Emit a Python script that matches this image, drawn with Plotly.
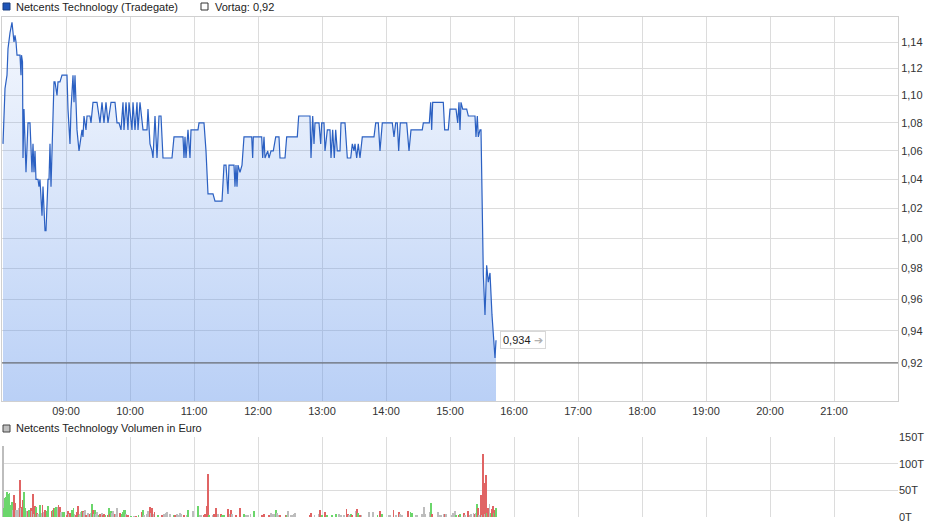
import math
import pandas as pd
import plotly.graph_objects as go

trade_date = "2021-02-19"
stock_name = "Netcents Technology"
exchange = "Tradegate"
prev_close = 0.92
last_price = 0.934

price_times = [
    "08:00:56", "08:02:49", "08:04:41", "08:05:38", "08:07:30", "08:09:22", "08:11:15", "08:12:11",
    "08:13:08", "08:14:04", "08:16:52", "08:17:49", "08:18:17", "08:19:13", "08:19:41", "08:20:37",
    "08:22:30", "08:24:22", "08:26:15", "08:27:11", "08:28:07", "08:29:04", "08:30:00", "08:30:56",
    "08:31:52", "08:33:45", "08:34:41", "08:35:37", "08:37:30", "08:38:26", "08:40:19", "08:41:15",
    "08:43:07", "08:44:04", "08:45:00", "08:45:56", "08:46:52", "08:48:45", "08:49:41", "08:51:34",
    "08:52:30", "08:54:22", "08:56:15", "09:00:56", "09:01:52", "09:03:45", "09:04:41", "09:06:34",
    "09:07:30", "09:08:26", "09:10:19", "09:12:11", "09:14:04", "09:15:00", "09:15:56", "09:16:52",
    "09:18:45", "09:19:41", "09:22:30", "09:23:26", "09:25:19", "09:29:04", "09:31:52", "09:33:45",
    "09:35:37", "09:37:30", "09:39:22", "09:42:11", "09:45:56", "09:47:49", "09:49:41", "09:51:34",
    "09:53:26", "09:54:22", "09:56:15", "09:58:07", "09:59:04", "10:01:52", "10:02:49", "10:04:41",
    "10:06:34", "10:07:30", "10:09:22", "10:12:11", "10:15:56", "10:16:52", "10:18:45", "10:20:37",
    "10:21:34", "10:23:26", "10:25:19", "10:27:11", "10:29:04", "10:30:56", "10:39:22", "10:41:15",
    "10:49:41", "10:50:37", "10:51:34", "10:52:30", "10:54:22", "10:56:15", "10:57:11", "11:03:45",
    "11:04:41", "11:09:22", "11:11:15", "11:13:07", "11:17:49", "11:19:41", "11:26:15", "11:28:07",
    "11:30:00", "11:31:52", "11:32:49", "11:37:30", "11:38:26", "11:39:22", "11:40:19", "11:41:15",
    "11:43:07", "11:45:00", "11:46:52", "11:54:06", "11:55:00", "11:55:36", "12:03:28", "12:04:24",
    "12:05:38", "12:06:34", "12:09:05", "12:10:19", "12:12:11", "12:14:21", "12:16:36", "12:19:41",
    "12:20:37", "12:25:19", "12:26:54", "12:36:50", "12:38:09", "12:48:45", "12:49:41", "12:51:17",
    "12:52:30", "12:53:26", "12:57:11", "12:58:47", "12:59:43", "13:01:52", "13:02:49", "13:05:00",
    "13:07:30", "13:08:26", "13:10:00", "13:11:32", "13:12:50", "13:14:20", "13:16:52", "13:17:49",
    "13:21:34", "13:23:44", "13:26:55", "13:28:25", "13:30:00", "13:30:56", "13:32:32", "13:34:00",
    "13:35:37", "13:37:47", "13:48:45", "13:50:20", "13:52:47", "13:54:22", "13:56:32", "14:05:54",
    "14:07:30", "14:09:05", "14:10:35", "14:11:54", "14:13:24", "14:19:24", "14:21:34", "14:23:26",
    "14:34:00", "14:35:00", "14:40:36", "14:41:54", "14:42:50", "14:43:46", "14:53:43", "14:55:00",
    "14:58:24", "15:00:00", "15:05:38", "15:07:13", "15:08:26", "15:09:22", "15:10:19", "15:11:54",
    "15:15:39", "15:17:11", "15:23:26", "15:24:22", "15:25:37", "15:26:32", "15:28:07", "15:29:04",
    "15:31:14", "15:32:48", "15:34:22", "15:35:53", "15:37:30", "15:39:22", "15:42:11", "15:43:08",
]
price_values = [
    1.065, 1.105, 1.115, 1.135, 1.147, 1.155, 1.14, 1.145,
    1.14, 1.13, 1.13, 1.115, 1.13, 1.125, 1.055, 1.09,
    1.045, 1.08, 1.08, 1.055, 1.045, 1.065, 1.045, 1.06,
    1.04, 1.04, 1.035, 1.04, 1.015, 1.035, 1.005, 1.005,
    1.04, 1.04, 1.065, 1.035, 1.065, 1.11, 1.11, 1.10,
    1.11, 1.11, 1.115, 1.115, 1.09, 1.065, 1.09, 1.115,
    1.095, 1.115, 1.075, 1.06, 1.07, 1.075, 1.07, 1.085,
    1.075, 1.085, 1.085, 1.08, 1.095, 1.095, 1.08, 1.095,
    1.08, 1.095, 1.08, 1.095, 1.095, 1.08, 1.08, 1.075,
    1.095, 1.075, 1.095, 1.075, 1.095, 1.075, 1.095, 1.075,
    1.095, 1.075, 1.095, 1.075, 1.075, 1.09, 1.065, 1.06,
    1.055, 1.085, 1.055, 1.085, 1.085, 1.055, 1.055, 1.07,
    1.07, 1.055, 1.07, 1.055, 1.075, 1.055, 1.075, 1.075,
    1.08, 1.08, 1.06, 1.03, 1.03, 1.025, 1.025, 1.05,
    1.05, 1.03, 1.05, 1.05, 1.035, 1.05, 1.035, 1.05,
    1.045, 1.05, 1.07, 1.07, 1.055, 1.07, 1.07, 1.055,
    1.07, 1.055, 1.06, 1.055, 1.06, 1.06, 1.07, 1.07,
    1.055, 1.055, 1.07, 1.07, 1.085, 1.085, 1.055, 1.085,
    1.065, 1.08, 1.08, 1.065, 1.08, 1.08, 1.06, 1.075,
    1.075, 1.055, 1.075, 1.055, 1.075, 1.06, 1.06, 1.08,
    1.08, 1.055, 1.055, 1.065, 1.06, 1.065, 1.055, 1.065,
    1.055, 1.07, 1.07, 1.08, 1.08, 1.06, 1.08, 1.08,
    1.07, 1.08, 1.08, 1.06, 1.08, 1.08, 1.06, 1.075,
    1.075, 1.08, 1.08, 1.095, 1.075, 1.095, 1.095, 1.075,
    1.075, 1.09, 1.09, 1.08, 1.095, 1.075, 1.095, 1.09,
    1.09, 1.085, 1.085, 1.07, 1.085, 1.07, 1.075, 1.075,
    0.976, 0.95, 0.982, 0.971, 0.977, 0.95, 0.923, 0.934,
]

vol_times = [
    "08:01", "08:02", "08:03", "08:04", "08:05", "08:06", "08:07", "08:08", "08:09", "08:10",
    "08:11", "08:12", "08:13", "08:14", "08:15", "08:16", "08:17", "08:18", "08:19", "08:20",
    "08:21", "08:22", "08:23", "08:24", "08:25", "08:27", "08:28", "08:29", "08:30", "08:31",
    "08:32", "08:33", "08:34", "08:36", "08:37", "08:38", "08:39", "08:40", "08:42", "08:43",
    "08:47", "08:48", "08:49", "08:50", "08:51", "08:52", "08:53", "08:54", "08:55", "08:56",
    "08:57", "08:58",
    "09:01", "09:02", "09:03", "09:04", "09:06", "09:07", "09:08", "09:09", "09:10", "09:11",
    "09:12", "09:13", "09:14", "09:15", "09:16", "09:17", "09:18", "09:19", "09:21", "09:22",
    "09:23", "09:24", "09:25", "09:26", "09:27", "09:28", "09:29", "09:31", "09:32", "09:34",
    "09:35", "09:36", "09:37", "09:39", "09:40", "09:41", "09:42", "09:43", "09:44", "09:46",
    "09:47", "09:48", "09:51", "09:52", "09:53", "09:54", "09:55", "09:56", "09:57", "09:58",
    "10:01", "10:04", "10:06", "10:08", "10:11", "10:12", "10:13", "10:16", "10:17", "10:18",
    "10:19", "10:20", "10:21", "10:22", "10:23", "10:26", "10:30", "10:32", "10:34", "10:35",
    "10:37", "10:38", "10:41", "10:42", "10:44", "10:45", "10:47", "10:48", "10:51", "10:53",
    "10:54", "10:59",
    "11:04", "11:06", "11:07", "11:09", "11:10", "11:12", "11:13", "11:14", "11:18", "11:19",
    "11:21", "11:22", "11:23", "11:25", "11:26", "11:28", "11:32", "11:34", "11:35", "11:36",
    "11:39", "11:43", "11:47", "11:49", "11:51", "11:53", "11:56",
    "12:04", "12:05", "12:06", "12:10", "12:12", "12:13", "12:15", "12:17", "12:18", "12:20",
    "12:21", "12:26", "12:27", "12:28", "12:31", "12:32", "12:34", "12:35", "12:49", "12:50",
    "12:53", "12:57", "12:58",
    "13:00", "13:03", "13:05", "13:09", "13:13", "13:16", "13:18", "13:21", "13:23", "13:24",
    "13:25", "13:27", "13:28", "13:32", "13:33", "13:34", "13:36", "13:37", "13:44", "13:48",
    "13:52", "13:54", "13:56",
    "14:03", "14:04", "14:07", "14:09", "14:12", "14:13", "14:15", "14:21", "14:23", "14:24",
    "14:28", "14:29", "14:34", "14:36", "14:37", "14:41", "14:42", "14:43", "14:49", "14:51",
    "14:52", "14:54", "14:55", "14:56",
    "15:02", "15:03", "15:05", "15:06", "15:08", "15:09", "15:13", "15:14", "15:17", "15:19",
    "15:20", "15:22", "15:23", "15:24", "15:25", "15:26", "15:27", "15:29", "15:30", "15:31",
    "15:32", "15:33", "15:34", "15:35", "15:36", "15:37", "15:38", "15:39", "15:40", "15:41",
    "15:42", "15:43",
]
# volume in thousand euro
vol_values = [
    134, 16, 35, 38, 46, 43, 45, 22, 28, 13,
    41, 26, 13, 13, 14, 16, 69, 16, 19, 32,
    47, 16, 11, 11, 13, 16, 11, 43, 5, 20,
    19, 8, 6, 22, 8, 22, 9, 14, 11, 20,
    11, 14, 16, 16, 19, 19, 22, 19, 9, 8,
    9, 9,
    3, 11, 5, 8, 13, 17, 5, 3, 10, 20,
    3, 5, 10, 11, 11, 10, 14, 3, 8, 5,
    8, 24, 14, 5, 13, 6, 9, 3, 5, 8,
    3, 5, 3, 3, 16, 5, 11, 8, 11, 5,
    5, 16, 8, 5, 9, 14, 14, 5, 3, 3,
    1, 1, 1, 2, 9, 13, 3, 5, 11, 9,
    19, 8, 17, 5, 9, 3, 2, 5, 8, 9,
    5, 6, 3, 3, 5, 3, 8, 6, 3, 3,
    13, 11,
    20, 3, 3, 3, 5, 20, 81, 3, 3, 5,
    16, 6, 5, 5, 3, 3, 15, 5, 13, 5,
    3, 16, 5, 3, 3, 5, 11,
    3, 3, 5, 3, 8, 5, 5, 13, 8, 3,
    3, 3, 3, 11, 3, 3, 5, 8, 3, 8,
    3, 5, 13,
    3, 9, 3, 3, 6, 6, 3, 3, 15, 5,
    3, 6, 3, 11, 15, 8, 3, 3, 9, 9,
    3, 11, 6,
    3, 3, 13, 3, 9, 5, 3, 11, 9, 8,
    3, 3, 6, 19, 6, 9, 26, 5, 9, 3,
    3, 6, 6, 6,
    3, 8, 11, 3, 3, 6, 8, 3, 11, 3,
    6, 8, 5, 8, 24, 16, 3, 41, 3, 119,
    64, 6, 79, 8, 17, 24, 8, 15, 20, 8,
    14, 16,
]
# u = price up, d = price down, n = unchanged
vol_direction = [
    "n", "u", "u", "u", "u", "u", "u", "u", "u", "n",
    "d", "d", "n", "n", "n", "n", "d", "n", "d", "d",
    "u", "u", "n", "d", "u", "d", "n", "d", "n", "d",
    "u", "d", "n", "u", "n", "d", "n", "d", "u", "u",
    "d", "u", "d", "u", "u", "n", "d", "d", "n", "n",
    "u", "u",
    "d", "d", "n", "d", "u", "u", "n", "d", "d", "d",
    "u", "n", "n", "u", "d", "n", "n", "d", "n", "d",
    "n", "u", "d", "n", "u", "n", "n", "u", "d", "n",
    "d", "d", "u", "d", "u", "d", "u", "n", "n", "d",
    "n", "n", "d", "u", "u", "u", "u", "n", "d", "d",
    "u", "n", "d", "u", "d", "u", "n", "n", "n", "n",
    "d", "n", "d", "n", "d", "u", "d", "n", "n", "n",
    "n", "n", "u", "d", "n", "n", "n", "n", "d", "n",
    "u", "n",
    "u", "n", "n", "d", "d", "d", "d", "u", "n", "d",
    "d", "n", "n", "d", "u", "u", "d", "n", "d", "n",
    "d", "d", "u", "n", "n", "n", "u",
    "d", "d", "d", "d", "n", "n", "n", "u", "n", "n",
    "d", "d", "u", "n", "n", "n", "n", "n", "d", "d",
    "n", "n", "d",
    "u", "d", "u", "u", "u", "n", "n", "n", "d", "d",
    "n", "u", "d", "n", "d", "u", "d", "n", "n", "n",
    "u", "d", "u",
    "n", "n", "d", "n", "d", "n", "n", "d", "u", "u",
    "n", "n", "n", "n", "n", "n", "u", "d", "n", "n",
    "n", "n", "d", "n",
    "n", "n", "n", "u", "d", "u", "d", "n", "d", "n",
    "n", "n", "d", "n", "u", "d", "n", "d", "n", "d",
    "d", "n", "d", "u", "d", "n", "u", "d", "d", "u",
    "d", "u",
]
direction_colors = {"u": "#6bd66b", "d": "#e06464", "n": "#bdbdbd"}

price_ticks = [0.92, 0.94, 0.96, 0.98, 1.00, 1.02, 1.04, 1.06, 1.08, 1.10, 1.12, 1.14]
price_range = [0.8969, 1.1592]
vol_ticks = [0, 50000, 100000, 150000]
vol_tick_labels = ["0T", "50T", "100T", "150T"]
session_start, session_end = "08:00", "22:00"
hour_ticks = ["09:00", "10:00", "11:00", "12:00", "13:00", "14:00", "15:00",
              "16:00", "17:00", "18:00", "19:00", "20:00", "21:00"]


def ts(t):
    return pd.Timestamp(f"{trade_date} {t}")


px_t = [ts(t) for t in price_times]
vx_t = [ts(t) for t in vol_times]
vol_euro = [v * 1000 for v in vol_values]
vol_colors = [direction_colors[d] for d in vol_direction]

FONT = "Liberation Sans, Arial, sans-serif"
GRID = "#dcdcdc"

fig = go.Figure()

fig.add_trace(go.Scatter(
    x=px_t, y=price_values, mode="lines",
    line=dict(color="#2b60c2", width=1.2),
    fill="tozeroy",
    fillgradient=dict(type="vertical",
                      colorscale=[[0, "rgba(100,150,235,0.45)"], [1, "rgba(100,150,235,0.07)"]],
                      start=price_range[0], stop=max(price_values)),
    xaxis="x", yaxis="y", hoverinfo="skip", showlegend=False,
))

fig.add_trace(go.Bar(
    x=vx_t, y=vol_euro, marker=dict(color=vol_colors, line=dict(width=0)),
    width=50000, xaxis="x2", yaxis="y2", showlegend=False, hoverinfo="skip",
))

xr = [ts(session_start), ts(session_end)]
xt = [ts(t) for t in hour_ticks]

fig.update_layout(
    width=940, height=526,
    margin=dict(l=2, r=42, t=17, b=9),
    paper_bgcolor="white", plot_bgcolor="white",
    separators=",.",
    font=dict(family=FONT, size=11, color="#333333"),
    bargap=0,
    xaxis=dict(domain=[0, 1], anchor="y", range=xr, tickvals=xt, tickformat="%H:%M",
               showgrid=True, gridcolor=GRID, gridwidth=1, ticks="", zeroline=False,
               showline=True, linecolor="#d0d0d0", mirror=True,
               tickfont=dict(family=FONT, size=11, color="#333333")),
    yaxis=dict(domain=[0.232, 1], anchor="x", type="log",
               range=[math.log10(price_range[0]), math.log10(price_range[1])],
               side="right", tickvals=price_ticks, tickformat=".2f",
               showgrid=True, gridcolor=GRID, gridwidth=1, ticks="", zeroline=False,
               showline=True, linecolor="#d0d0d0", mirror=True,
               tickfont=dict(family=FONT, size=11, color="#333333")),
    xaxis2=dict(domain=[0, 1], anchor="y2", matches="x", tickvals=xt, showticklabels=False,
                showgrid=True, gridcolor=GRID, gridwidth=1, ticks="", zeroline=False, showline=False),
    yaxis2=dict(domain=[0, 0.16], anchor="x2", range=[0, 150000], side="right",
                tickvals=vol_ticks, ticktext=vol_tick_labels,
                showgrid=True, gridcolor=GRID, gridwidth=1, ticks="", zeroline=False, showline=False,
                tickfont=dict(family=FONT, size=11, color="#333333")),
)

# previous close line
fig.add_shape(type="line", xref="paper", x0=0, x1=1, yref="y", y0=prev_close, y1=prev_close,
              line=dict(color="#5a5a5a", width=1))


def px2x(p):
    return (p - 2) / 896


def px2y(p):
    return (517 - p) / 500


# legend squares
fig.add_shape(type="rect", xref="paper", yref="paper", x0=px2x(3), x1=px2x(10), y0=px2y(10), y1=px2y(3),
              fillcolor="#1f55b8", line=dict(color="#1a3f80", width=1))
fig.add_shape(type="rect", xref="paper", yref="paper", x0=px2x(201), x1=px2x(208), y0=px2y(10), y1=px2y(3),
              fillcolor="white", line=dict(color="#333333", width=1))
fig.add_shape(type="rect", xref="paper", yref="paper", x0=px2x(3), x1=px2x(10), y0=px2y(432), y1=px2y(425),
              fillcolor="#c0c0c0", line=dict(color="#444444", width=1))

fig.add_annotation(xref="paper", yref="paper", x=px2x(14), y=px2y(7), xanchor="left", yanchor="middle",
                   text=f"{stock_name} ({exchange})", showarrow=False,
                   font=dict(family=FONT, size=11, color="#222222"))
fig.add_annotation(xref="paper", yref="paper", x=px2x(213), y=px2y(7), xanchor="left", yanchor="middle",
                   text=f"Vortag: {prev_close:.2f}".replace(".", ","), showarrow=False,
                   font=dict(family=FONT, size=11, color="#222222"))
fig.add_annotation(xref="paper", yref="paper", x=px2x(14), y=px2y(428), xanchor="left", yanchor="middle",
                   text=f"{stock_name} Volumen in Euro", showarrow=False,
                   font=dict(family=FONT, size=11, color="#222222"))

# last price label
fig.add_annotation(xref="x", yref="y", x=px_t[-1], y=math.log10(last_price), xanchor="left", yanchor="middle",
                   xshift=4, text=f"{last_price:.3f}".replace(".", ",") + " <span style='color:#b0b0b0'>➔</span>",
                   showarrow=False, bgcolor="white", bordercolor="#d8d8d8", borderwidth=1, borderpad=2,
                   font=dict(family=FONT, size=11, color="#222222"))

fig.write_html("out.html", config={"displayModeBar": False},
               post_script="document.body.style.margin='0';document.body.style.overflow='hidden';")
